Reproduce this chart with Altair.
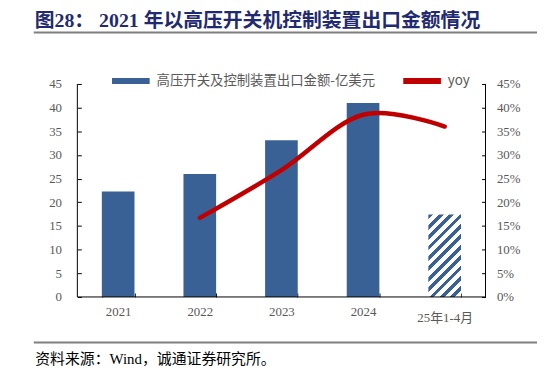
import altair as alt
import pandas as pd

# ---- data ----
categories = ["2021", "2022", "2023", "2024", "25年1-4月"]
amounts = [22.3, 26.0, 33.1, 41.0, 17.4]          # 亿美元
yoy = [None, 0.167, 0.268, 0.385, 0.360]           # 同比
bar_name = "高压开关及控制装置出口金额-亿美元"
line_name = "yoy"

# ---- style ----
W, H = 412, 215
BLUE = "#3A6196"
RED = "#C00000"
GRAY = "#595959"
SERIF = "Liberation Serif, Noto Sans CJK SC"
SANS = "Noto Sans CJK SC"

df_bar = pd.DataFrame({"cat": categories[:4], "v": amounts[:4]})
df_hatch = pd.DataFrame({"cat": categories[4:], "v": amounts[4:]})
df_line = pd.DataFrame({"cat": categories, "y": yoy, "s": line_name}).dropna()

# diagonal hatch built as a hard-stop linear gradient
step = W / len(categories)
bw = step * 0.4
bh = amounts[4] / 45 * H
r = bw / bh
b = (1 + r) / (1 + r * r)
a = r * b
L = bw + bh
P = 10.5
stops = []
k = 0
while k * P < L:
    s0 = k * P / L
    s1 = min((k + 0.45) * P / L, 1)
    s2 = min((k + 1) * P / L, 1)
    stops += [{"offset": s0, "color": BLUE}, {"offset": s1, "color": BLUE},
              {"offset": s1, "color": "#ffffff"}, {"offset": s2, "color": "#ffffff"}]
    k += 1
hatch = {"gradient": "linear", "x1": 0, "y1": 0, "x2": a, "y2": b, "stops": stops}

xscale = alt.Scale(domain=categories, paddingInner=0.6, paddingOuter=0.3)
xaxis = alt.Axis(
    title="资料来源：Wind，诚通证券研究所。", titleX=-43, titleY=71, titleAlign="left",
    titleBaseline="alphabetic", titleFont=SERIF, titleFontSize=15, titleFontWeight="normal",
    titleColor="#000000", titleAnchor="start",
    labelFont=SERIF, labelFontSize=13, labelColor=GRAY, labelAngle=0,
    labelPadding={"condition": {"test": "datum.value == '25年1-4月'", "value": 15}, "value": 9},
    tickBand="extent", tickSize=4, tickColor="#000000", domain=False, offset=-4,
)
yaxis_left = alt.Axis(
    title=None, values=list(range(0, 50, 5)), labelFont=SERIF, labelFontSize=13,
    labelColor=GRAY, tickSize=4, tickColor="#000000", domain=False, offset=-4,
    labelPadding=16, grid=False, labelOverlap=False,
)
yaxis_right = alt.Axis(
    title=None, orient="right", values=[i / 100 for i in range(0, 50, 5)], format=".0%",
    labelFont=SERIF, labelFontSize=13, labelColor=GRAY, tickSize=4, tickColor="#000000",
    domain=False, offset=-4, labelPadding=11, grid=False, labelOverlap=False,
)

yscale_left = alt.Scale(domain=[0, 45])
bars = alt.Chart(df_bar).mark_bar(color=BLUE).encode(
    x=alt.X("cat:N", scale=xscale, axis=xaxis, sort=categories),
    y=alt.Y("v:Q", scale=yscale_left, axis=yaxis_left),
)
hatched = alt.Chart(df_hatch).mark_bar(fill=hatch).encode(
    x=alt.X("cat:N", scale=xscale, axis=xaxis, sort=categories),
    y=alt.Y("v:Q", scale=yscale_left, axis=yaxis_left),
)
left = alt.layer(bars, hatched)

line = alt.Chart(df_line).mark_line(strokeWidth=4.5, interpolate="cardinal", strokeCap="round").encode(
    x=alt.X("cat:N", scale=xscale, axis=xaxis, sort=categories),
    y=alt.Y("y:Q", scale=alt.Scale(domain=[0, 0.45]), axis=yaxis_right),
    color=alt.Color("s:N", scale=alt.Scale(domain=[bar_name, line_name], range=[BLUE, RED]),
                    legend=alt.Legend(title=None, orient="none", legendX=32, legendY=-25,
                                      direction="horizontal", symbolType="stroke",
                                      symbolSize=1444, symbolStrokeWidth=6, labelFont=SANS,
                                      labelFontSize=13.5, labelColor=GRAY, columnPadding=16,
                                      labelOffset=4, padding=0, labelLimit=400)),
)

rule_l = alt.Chart().mark_rule(color="#000000", strokeWidth=1).encode(
    x=alt.value(0), y=alt.value(0), y2=alt.value(H))
rule_r = alt.Chart().mark_rule(color="#000000", strokeWidth=1).encode(
    x=alt.value(W), y=alt.value(0), y2=alt.value(H))
rule_b = alt.Chart().mark_rule(color="#000000", strokeWidth=1).encode(
    x=alt.value(0), x2=alt.value(W), y=alt.value(H))
line_top = alt.Chart().mark_rule(color="#7F7F7F", strokeWidth=2).encode(
    x=alt.value(-44), x2=alt.value(464), y=alt.value(-52))
line_bot = alt.Chart().mark_rule(color="#7F7F7F", strokeWidth=2).encode(
    x=alt.value(-44), x2=alt.value(464), y=alt.value(261))

chart = alt.layer(left, line, rule_l, rule_r, rule_b, line_top, line_bot).resolve_scale(
    y="independent"
).properties(
    width=W, height=H,
    padding={"left": 70, "top": 75, "right": 54, "bottom": 68},
    autosize="none",
    title=alt.TitleParams(
        "图28：  2021 年以高压开关机控制装置出口金额情况", anchor="start", frame="group",
        dx=-43, dy=9, font=SERIF, fontSize=20, fontWeight="bold", color="#1F2A70", offset=10,
    ),
).configure_view(stroke=None)

chart.save("out.html", embed_options={"renderer": "svg", "actions": False})
